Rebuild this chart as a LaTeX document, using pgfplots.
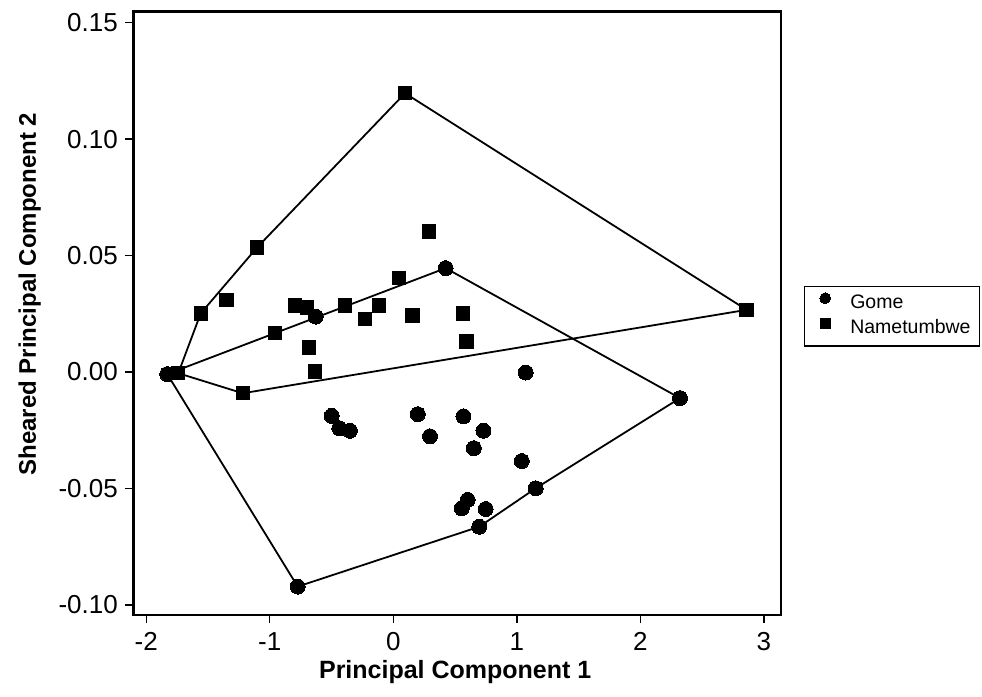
\documentclass[border=0pt]{standalone}
\usepackage{fontspec}
\setmainfont{Liberation Sans}
\usepackage{pgfplots}
\pgfplotsset{compat=1.18}
\begin{document}
\begin{tikzpicture}[x=1pt,y=1pt]
\useasboundingbox (-133.3,-81) rectangle (848.7,615);
\begin{axis}[
  at={(0,0)}, anchor=south west,
  scale only axis, width=647.7pt, height=603.3pt,
  xmin=-2.105, xmax=3.139, ymin=-0.1043, ymax=0.1547,
  xtick={-2,-1,0,1,2,3}, xticklabels={-2,-1,0,1,2,3},
  ytick={-0.1,-0.05,0,0.05,0.1,0.15},
  yticklabels={-0.10,-0.05,0.00,0.05,0.10,0.15},
  tick align=outside, major tick length=8pt,
  tick style={black, line width=1.4pt},
  xtick pos=bottom, ytick pos=left,
  axis line style={line width=2.6pt},
  ticklabel style={font=\fontsize{26}{30}\selectfont},
  xticklabel style={yshift=-6pt},
  yticklabel style={xshift=-4pt},
  xlabel={Principal Component 1},
  ylabel={Sheared Principal Component 2},
  xlabel style={font=\fontsize{25}{29}\selectfont\bfseries, at={(axis description cs:0.497,-0.0945)}, anchor=center},
  ylabel style={font=\fontsize{24}{28}\selectfont\bfseries, at={(axis description cs:-0.160,0.532)}, anchor=center},
  legend style={at={(axis description cs:1.0355,0.495)}, anchor=west, draw=black, line width=1.2pt,
    font=\fontsize{19.5}{23}\selectfont, inner xsep=6.5pt, inner ysep=6pt, row sep=4pt,
    nodes={inner xsep=2pt, inner ysep=2pt, text height=13pt, text depth=4pt}},
  legend cell align=left,
  legend image code/.code={\path (0pt,-6pt) (36pt,6pt); \draw[#1, every mark/.append style={scale=0.72}] plot coordinates {(13.5pt,6pt)};},
]
% hulls
\addplot[black, line width=1.8pt, forget plot] coordinates {
(-1.830,-0.0009) (0.424,0.0446) (2.321,-0.0112) (1.153,-0.0499) (0.696,-0.0664) (-0.774,-0.0921) (-1.830,-0.0009)};
\addplot[black, line width=1.8pt, forget plot] coordinates {
(-1.741,-0.0005) (-1.559,0.0252) (-1.104,0.0534) (0.095,0.1197) (2.861,0.0267) (-1.219,-0.0091) (-1.741,-0.0005)};
% Gome
\addplot[only marks, mark=*, mark size=7.5pt, black, mark options={fill=black, draw=black, line width=0pt}] coordinates {
(-1.830,-0.0009) (-0.628,0.0238) (0.424,0.0446) (1.072,-0.0002) (-0.499,-0.0188)
(-0.437,-0.0241) (-0.351,-0.0252) (0.198,-0.0181) (0.297,-0.0276) (0.568,-0.0190)
(0.730,-0.0252) (0.652,-0.0327) (1.040,-0.0382) (1.153,-0.0499) (2.321,-0.0112)
(-0.774,-0.0921) (0.696,-0.0664) (0.602,-0.0549) (0.554,-0.0585) (0.748,-0.0588)};
\addlegendentry{Gome}
% Nametumbwe
\addplot[only marks, mark=square*, mark size=6.7pt, black, mark options={fill=black, draw=black, line width=0pt}] coordinates {
(-1.559,0.0252) (-1.349,0.0310) (-0.796,0.0285) (-0.701,0.0277) (-0.391,0.0285)
(-0.116,0.0285) (0.046,0.0405) (-0.229,0.0227) (0.157,0.0242) (0.562,0.0252)
(0.594,0.0131) (-0.958,0.0167) (-0.683,0.0105) (-0.634,0.0002) (-1.741,-0.0005)
(-1.219,-0.0091) (0.095,0.1197) (-1.104,0.0534) (0.289,0.0603) (2.861,0.0267)};
\addlegendentry{Nametumbwe}
\end{axis}
\end{tikzpicture}
\end{document}
